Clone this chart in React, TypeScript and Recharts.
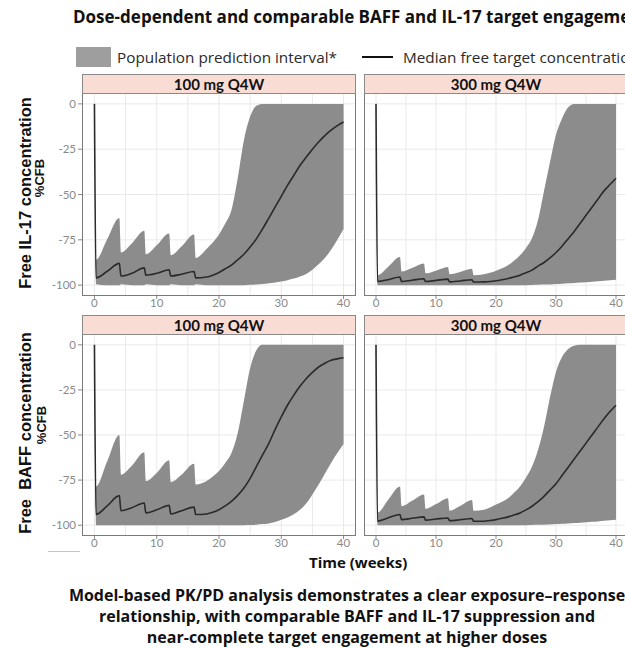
import { ComposedChart, Area, Line, XAxis, YAxis, CartesianGrid } from "recharts";

const weeks = [0, 0.25, 2, 4, 4.25, 6, 8, 8.25, 10, 12, 12.25, 14, 16, 16.25, 18, 19, 20, 21, 22, 23, 24, 25, 26, 27, 28, 29, 30, 31, 32, 33, 34, 35, 36, 37, 38, 39, 40];

// IL-17, 100 mg Q4W
const il17Low100 = [0, -99.5, -100, -100, -99.5, -100, -100, -99.5, -100, -100, -99.5, -100, -100, -99.5, -100, -100, -100, -100, -100, -100, -100, -99.8, -99.6, -99.4, -99, -98.6, -98, -97.3, -96.4, -95.2, -93.8, -91.5, -88.5, -85, -80.5, -75, -69];
const il17High100 = [0, -86, -75, -63, -82, -77, -70, -83, -78, -71.5, -83.5, -78.5, -72, -85, -80, -76.5, -72, -66, -58.5, -41, -20, -7, -1, 0, 0, 0, 0, 0, 0, 0, 0, 0, 0, 0, 0, 0, 0];
const il17Median100 = [0, -96, -92.5, -88, -95, -93.5, -90.5, -94.5, -93.5, -91.5, -95, -94, -92.5, -96, -95.5, -94.5, -93, -91, -89, -86, -83, -79, -74.5, -69, -63, -57, -51, -45, -39.5, -34, -29.5, -25, -21, -17.5, -14.5, -12, -10];

// IL-17, 300 mg Q4W
const il17Low300 = [0, -100, -100, -100, -100, -100, -100, -100, -100, -100, -100, -100, -100, -100, -100, -100, -100, -100, -100, -100, -100, -100, -99.9, -99.8, -99.7, -99.6, -99.4, -99.2, -99, -98.8, -98.6, -98.4, -98.1, -97.9, -97.6, -97.3, -97];
const il17High300 = [0, -94.5, -90, -84.5, -92.5, -90.5, -88, -93.5, -92, -90, -94, -92.8, -91, -94.5, -94, -93.2, -92, -90.7, -89, -86.5, -83.5, -79.5, -74, -64, -48, -32, -17, -8, -2, 0, 0, 0, 0, 0, 0, 0, 0];
const il17Median300 = [0, -98, -97, -95.5, -98, -97.3, -96.5, -98, -97.4, -96.7, -98.2, -97.7, -97, -98.3, -98.2, -98, -97.6, -97, -96.3, -95.5, -94.5, -93.2, -91.7, -89.5, -87.5, -85, -82, -78.5, -74.5, -70.5, -66, -61.5, -57, -52.5, -48, -44.5, -41];

// BAFF, 100 mg Q4W
const baffLow100 = [0, -100, -100, -100, -100, -100, -100, -100, -100, -100, -100, -100, -100, -100, -100, -100, -100, -100, -100, -100, -100, -99.9, -99.7, -99.4, -99, -98.2, -97, -95.7, -94, -91.5, -88, -83, -77.5, -71.5, -65.5, -60, -55];
const baffHigh100 = [0, -78.5, -65, -50, -72, -67, -59.5, -75.5, -71, -64, -76, -72, -66, -77.5, -75.5, -73, -70, -65.5, -60, -49, -31, -13, -3, 0, 0, 0, 0, 0, 0, 0, 0, 0, 0, 0, 0, 0, 0];
const baffMedian100 = [0, -94, -89.5, -83.6, -92, -90.3, -87.7, -93.2, -91.5, -89, -93.8, -92, -90, -94.1, -93.8, -92.8, -91.4, -89.3, -86.8, -83.5, -79.4, -74, -67.5, -61, -54.6, -47, -40, -33.5, -28, -23, -18.8, -15.3, -12.3, -10.2, -8.6, -7.8, -7.2];

// BAFF, 300 mg Q4W
const baffLow300 = [0, -100, -100, -100, -100, -100, -100, -100, -100, -100, -100, -100, -100, -100, -100, -100, -100, -100, -100, -100, -100, -100, -99.9, -99.8, -99.7, -99.6, -99.4, -99.2, -99, -98.8, -98.6, -98.4, -98.1, -97.9, -97.6, -97.3, -97];
const baffHigh300 = [0, -93, -86, -78.5, -89.5, -86.5, -83, -91, -88.3, -85, -92, -89.3, -86, -92, -91.4, -90.2, -88.6, -87, -85, -82, -78.5, -73.5, -67.5, -58.3, -45.4, -29, -15, -6.8, -2.5, -0.5, 0, 0, 0, 0, 0, 0, 0];
const baffMedian300 = [0, -97.8, -96, -94.1, -96.9, -96.2, -95.4, -97.2, -96.6, -96, -97.5, -97, -96.3, -97.8, -97.8, -97.4, -96.9, -96.2, -95.4, -94.4, -93.2, -91.5, -89.5, -87, -84, -80.5, -77, -72.5, -68, -63.5, -59, -54.5, -50, -45.5, -41, -37, -33.5];

const xTicks = [0, 10, 20, 30, 40];
const yTicks = [-100, -75, -50, -25, 0];
const xGrid = [0, 5, 10, 15, 20, 25, 30, 35, 40];
const yGrid = [0, -12.5, -25, -37.5, -50, -62.5, -75, -87.5, -100];

const rows = (low: number[], high: number[], median: number[]) =>
  weeks.map((w, i) => ({ week: w, band: [low[i], high[i]], median: median[i] }));

const tickStyle = { fill: "#8a8a8a", fontSize: 11.5, fontFamily: "Lato" };

function Panel({ left, top, plotW, plotH, showY, data, label }: any) {
  const yW = showY ? 36 : 0;
  return (
    <>
      <div style={{ position: "absolute", left: left - yW, top }}>
        <ComposedChart width={plotW + yW} height={plotH + 20} data={data} margin={{ top: 0, right: 0, bottom: 0, left: 0 }}>
          <CartesianGrid stroke="#e9e9e9" verticalValues={xGrid} horizontalValues={yGrid} />
          <XAxis
            dataKey="week"
            type="number"
            domain={[-2, 42]}
            ticks={xTicks}
            allowDataOverflow
            interval={0}
            height={20}
            axisLine={false}
            tickLine={{ stroke: "#8a8a8a" }}
            tickSize={3}
            tickMargin={0}
            tick={tickStyle}
          />
          <YAxis
            hide={!showY}
            type="number"
            domain={[-106, 6]}
            ticks={yTicks}
            allowDataOverflow
            width={yW}
            axisLine={false}
            tickLine={{ stroke: "#8a8a8a" }}
            tickSize={4}
            tickMargin={2}
            tick={tickStyle}
          />
          <Area dataKey="band" type="monotone" stroke="none" fill="#8c8c8c" fillOpacity={1} isAnimationActive={false} />
          <Line dataKey="median" type="monotone" stroke="#2a2a2a" strokeWidth={1.6} dot={false} isAnimationActive={false} />
        </ComposedChart>
      </div>
      <div style={{ position: "absolute", left, top, width: plotW, height: plotH, border: "1px solid #7a7a7a", boxSizing: "border-box", pointerEvents: "none" }} />
      <div
        style={{
          position: "absolute",
          left,
          top: top - 19,
          width: plotW,
          height: 20,
          background: "#f9dcd4",
          border: "1px solid #8a8a8a",
          boxSizing: "border-box",
          textAlign: "center",
          font: "bold 15px Lato",
          lineHeight: "18px",
          color: "#111",
        }}
      >
        {label}
      </div>
    </>
  );
}

function RotLabel({ cx, cy, text, size }: any) {
  return (
    <div
      style={{
        position: "absolute",
        left: cx - 130,
        top: cy - 11,
        width: 260,
        height: 22,
        lineHeight: "22px",
        textAlign: "center",
        transform: "rotate(-90deg)",
        font: `bold ${size}px 'Liberation Sans'`,
        color: "#111",
        whiteSpace: "pre",
      }}
    >
      {text}
    </div>
  );
}

export default function App() {
  return (
    <div style={{ position: "absolute", left: 0, top: 0, width: 625, height: 648, overflow: "hidden", background: "#fff", fontFamily: "'Open Sans'" }}>
      <div style={{ position: "absolute", left: 73, top: 5, font: "bold 17px 'Open Sans'", color: "#111", whiteSpace: "nowrap" }}>
        Dose-dependent and comparable BAFF and IL-17 target engagement
      </div>

      <div style={{ position: "absolute", left: 76, top: 47, width: 35, height: 20, background: "#9e9e9e" }} />
      <div style={{ position: "absolute", left: 117, top: 46, lineHeight: "22px", fontSize: 15.3, color: "#2a2a2a", whiteSpace: "nowrap" }}>
        Population prediction interval*
      </div>
      <div style={{ position: "absolute", left: 362, top: 56, width: 31, height: 2, background: "#111" }} />
      <div style={{ position: "absolute", left: 403, top: 46, lineHeight: "22px", fontSize: 15.3, color: "#2a2a2a", whiteSpace: "nowrap" }}>
        Median free target concentration
      </div>

      <Panel left={82} top={93} plotW={274} plotH={203} showY data={rows(il17Low100, il17High100, il17Median100)} label="100 mg Q4W" />
      <Panel left={364} top={93} plotW={264} plotH={203} showY={false} data={rows(il17Low300, il17High300, il17Median300)} label="300 mg Q4W" />
      <Panel left={82} top={334} plotW={274} plotH={202} showY data={rows(baffLow100, baffHigh100, baffMedian100)} label="100 mg Q4W" />
      <Panel left={364} top={334} plotW={264} plotH={202} showY={false} data={rows(baffLow300, baffHigh300, baffMedian300)} label="300 mg Q4W" />

      <RotLabel cx={27} cy={193} text="Free IL-17 concentration" size={16.5} />
      <div style={{ position: "absolute", left: 0, top: 140, width: 45, height: 80, overflow: "hidden" }}>
        <RotLabel cx={43} cy={38} text="%CFB" size={13} />
      </div>
      <RotLabel cx={27} cy={433} text="Free  BAFF concentration" size={16.5} />
      <RotLabel cx={45} cy={425} text="%CFB" size={13} />

      <div style={{ position: "absolute", left: 48, top: 551, width: 32, height: 1, background: "#c4c4c4" }} />

      <div style={{ position: "absolute", left: 309, top: 552, font: "bold 15px 'Open Sans'", color: "#111", whiteSpace: "nowrap" }}>
        Time (weeks)
      </div>

      <div style={{ position: "absolute", left: 0, top: 585, width: 694, textAlign: "center", font: "bold 16px 'Open Sans'", lineHeight: "21px", color: "#111" }}>
        <div style={{ whiteSpace: "nowrap" }}>Model-based PK/PD analysis demonstrates a clear exposure–response</div>
        <div>relationship, with comparable BAFF and IL-17 suppression and</div>
        <div>near-complete target engagement at higher doses</div>
      </div>
    </div>
  );
}
